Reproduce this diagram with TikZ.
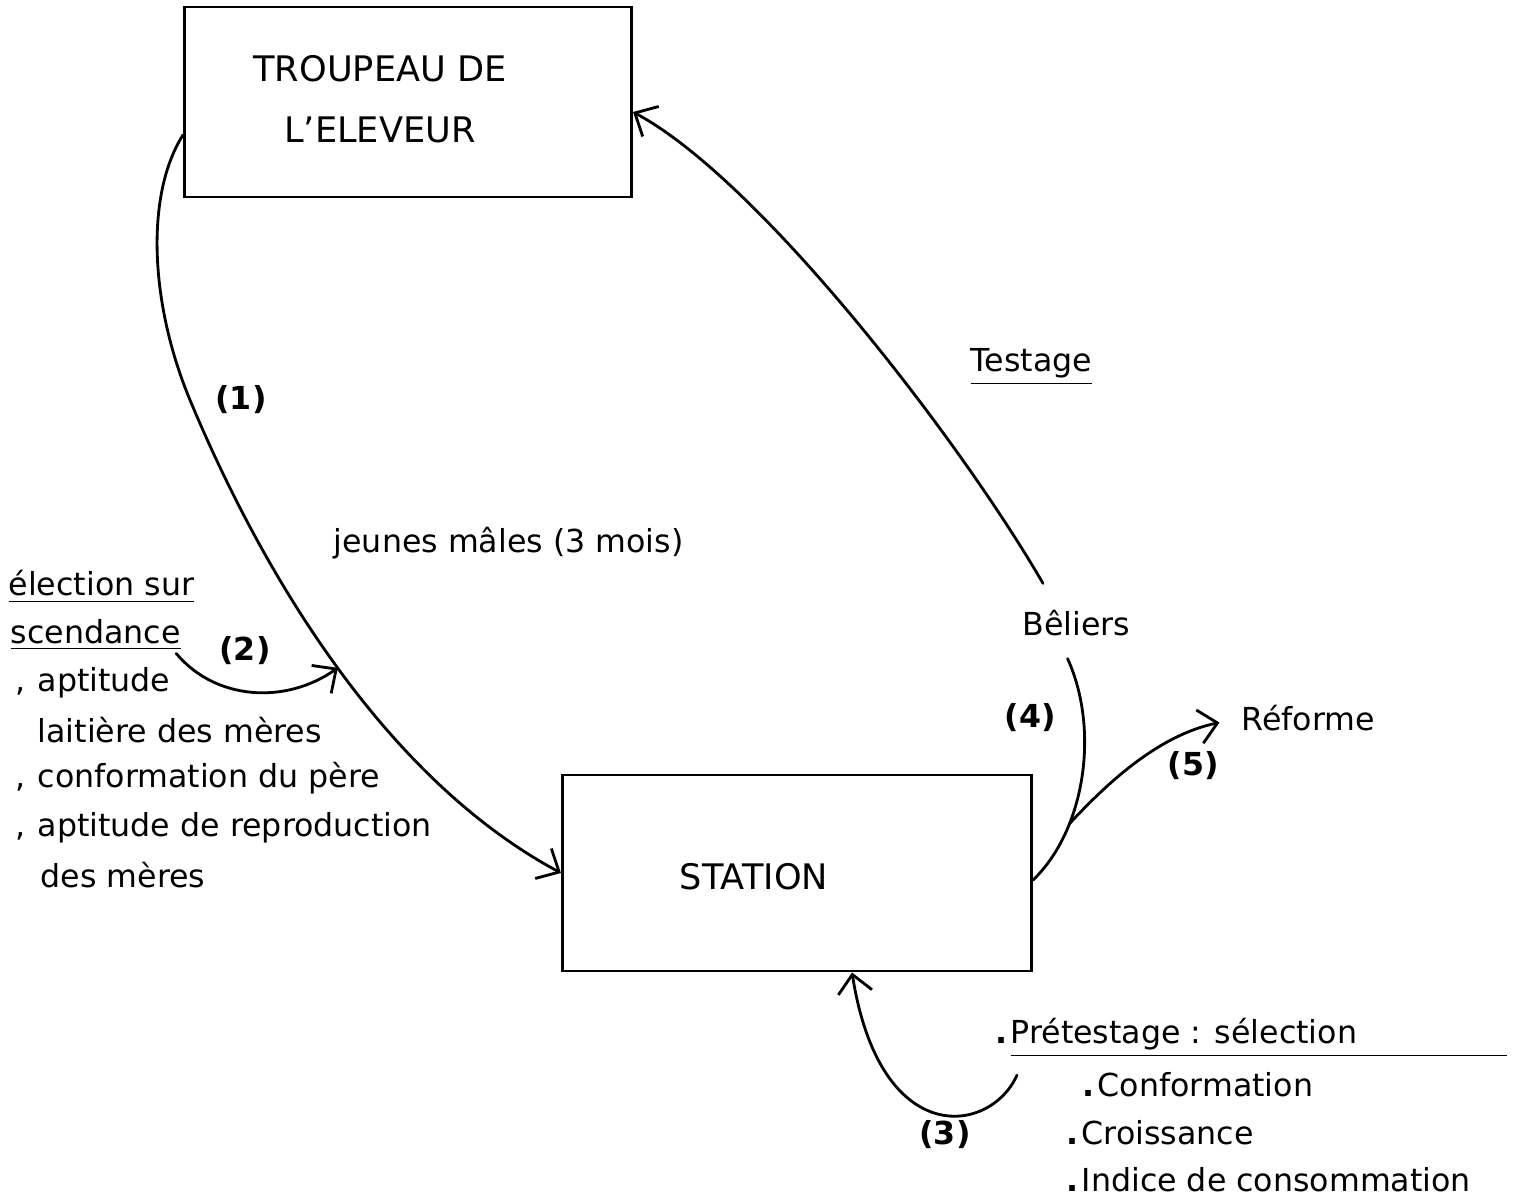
\documentclass[tikz,border=0pt]{standalone}
\usepackage{fontspec}
\setmainfont{DejaVu Sans}
\usetikzlibrary{arrows.meta}

\newcommand{\virg}{\makebox[0.22cm][l]{,}}
\newcommand{\puce}{\makebox[0.15cm][l]{\textbf{.}}}

\begin{document}
\begin{tikzpicture}[x=0.01cm,y=-0.01cm,>={Straight Barb[length=1.8mm,width=3.4mm]}]
    \tikzstyle{box}=[rectangle,draw,thick,inner sep=0pt]
    \tikzstyle{big}=[inner sep=0pt,align=center,font=\fontsize{10}{17.5}\selectfont]
    \tikzstyle{txt}=[inner sep=0pt,anchor=west,font=\fontsize{9}{11}\selectfont]
    \tikzstyle{num}=[inner sep=0pt,font=\fontsize{9}{11}\selectfont\bfseries]
    \tikzstyle{flow}=[thick,line cap=round]

    \useasboundingbox (0,0) rectangle (1533,1197);

    % Boxes
    \node [box,minimum width=4.47cm,minimum height=1.9cm] (troupeau) at (408,102) {};
    \node [big] (troupeaulbl) at (380,99) {TROUPEAU DE\\L'ELEVEUR};
    \node [box,minimum width=4.69cm,minimum height=1.96cm] (station) at (797,873) {};
    \node [big] (stationlbl) at (754,877) {STATION};

    % Labels on the cycle
    \node [num] (n1) at (241,400) {(1)};
    \node [txt] (jeunes) at (333,543) {jeunes mâles (3 mois)};
    \node [txt] (testage) at (970,367) {\underline{Testage}};
    \node [txt] (beliers) at (1022,623) {Bêliers};
    \node [num] (n4) at (1030,718) {(4)};
    \node [txt] (reforme) at (1241,718) {Réforme};
    \node [num] (n5) at (1193,766) {(5)};
    \node [num] (n2) at (245,651) {(2)};
    \node [num] (n3) at (945,1135) {(3)};

    % Selection sur ascendance
    \node [txt] (sel1) at (8,587) {\underline{élection sur}};
    \node [txt] (sel2) at (10,635) {\underline{scendance}};
    \node [txt] (asc1) at (15,683) {\virg aptitude};
    \node [txt] (asc2) at (37,730) {laitière des mères};
    \node [txt] (asc3) at (15,778) {\virg conformation du père};
    \node [txt] (asc4) at (15,828) {\virg aptitude de reproduction};
    \node [txt] (asc5) at (40,875) {des mères};

    % Pretestage
    \node [txt] (pretest) at (995,1038) {\puce\underline{Prétestage : sélection\hspace*{1.5cm}}};
    \node [txt] (conf) at (1082,1085) {\puce Conformation};
    \node [txt] (croiss) at (1066,1133) {\puce Croissance};
    \node [txt] (indice) at (1066,1180) {\puce Indice de consommation};

    % (1) jeunes males -> station
    \draw [flow,->] ([yshift=-0.33cm]troupeau.west)
        .. controls (145,195) and (150,304) .. (190,400)
        .. controls (240,520) and (360,765) .. (station.west) coordinate[pos=0.55] (join);

    % (2)
    \draw [flow,->] ([shift={(-0.05cm,-0.02cm)}]sel2.south east)
        .. controls (215,700) and (285,705) .. (join);

    % Testage: beliers -> troupeau
    \draw [flow,->] ([shift={(0.21cm,0.26cm)}]beliers.north west)
        .. controls (960,440) and (760,180) .. ([yshift=-0.1cm]troupeau.east);

    % (4) station -> beliers
    \draw [flow] ([yshift=-0.07cm]station.east)
        .. controls (1085,830) and (1100,730) .. ([shift={(-0.09cm,-0.22cm)}]beliers.south) coordinate[pos=0.3] (fork);

    % (5) reforme
    \draw [flow,->,shorten >=0.22cm] (fork) .. controls (1110,780) and (1160,735) .. (reforme.west);

    % (3) pretestage -> station
    \draw [flow,->] ([shift={(0.22cm,-0.17cm)}]pretest.south west)
        .. controls (990,1135) and (880,1150) .. ([xshift=0.55cm]station.south);
\end{tikzpicture}
\end{document}
